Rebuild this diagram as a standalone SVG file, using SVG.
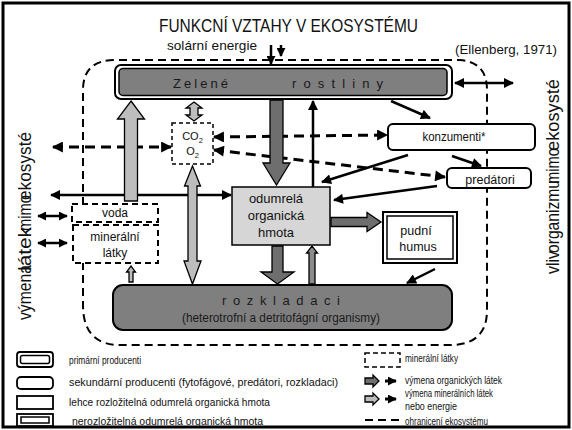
<svg xmlns="http://www.w3.org/2000/svg" width="572" height="430" viewBox="0 0 572 430">
<style>
  text{font-family:"Liberation Sans Narrow","Liberation Sans",Arial,sans-serif;fill:#111}
  .box{stroke:#000;stroke-width:2}
  .dk{fill:#7f7f7f}
  .lt{fill:#d6d6d6}
  .w{fill:#fff}
  .ln{stroke:#000;stroke-width:2.5;fill:none}
  .dash{stroke:#000;stroke-width:3;stroke-dasharray:10 6;fill:none}
  .bnd{stroke:#000;stroke-width:2;stroke-dasharray:8 5;fill:none}
  .mdash{stroke:#000;stroke-width:2;stroke-dasharray:6 4;fill:#fff}
  .ba{stroke:#000;stroke-width:1.3;stroke-linejoin:miter}
  .gA{fill:#bdbdbd}
  .gD{fill:#6e6e6e}
  .gM{fill:#8c8c8c}
  .lg{font-size:11px}
  .vt{font-size:19px}
  .in{fill:#1a1a1a}
</style>
<defs>
  <marker id="ah" viewBox="0 0 10 10" refX="9" refY="5" markerWidth="12" markerHeight="10" markerUnits="userSpaceOnUse" orient="auto-start-reverse">
    <path d="M0,0L10,5L0,10z"/>
  </marker>
  <marker id="ahL" viewBox="0 0 10 10" refX="9" refY="5" markerWidth="14" markerHeight="11" markerUnits="userSpaceOnUse" orient="auto-start-reverse">
    <path d="M0,0L10,5L0,10z"/>
  </marker>
  <marker id="ahS" viewBox="0 0 10 10" refX="9" refY="5" markerWidth="9" markerHeight="9" markerUnits="userSpaceOnUse" orient="auto-start-reverse">
    <path d="M0,0L10,5L0,10z"/>
  </marker>
</defs>

<!-- page and frame -->
<rect x="0" y="0" width="572" height="430" fill="#fff"/>
<rect x="3" y="3" width="566" height="424" fill="none" stroke="#000" stroke-width="3"/>

<!-- headings -->
<text x="159" y="32" font-size="19" textLength="259" lengthAdjust="spacingAndGlyphs">FUNKCNÍ VZTAHY V EKOSYSTÉMU</text>
<text x="167" y="50" font-size="13" textLength="90" lengthAdjust="spacingAndGlyphs">solární energie</text>
<text x="455" y="54" font-size="12.5" textLength="102" lengthAdjust="spacingAndGlyphs">(Ellenberg, 1971)</text>

<!-- side captions -->
<g class="vt" transform="translate(31,320) rotate(-90)">
  <text x="0" y="0" class="vt" textLength="55" lengthAdjust="spacingAndGlyphs">výmena</text>
  <text x="49" y="0" class="vt" textLength="44" lengthAdjust="spacingAndGlyphs">látek</text>
  <text x="89" y="0" class="vt" textLength="36" lengthAdjust="spacingAndGlyphs">mimo</text>
  <text x="120" y="0" class="vt" textLength="68" lengthAdjust="spacingAndGlyphs">ekosysté</text>
</g>
<g transform="translate(559,274) rotate(-90)">
  <text x="0" y="0" class="vt" textLength="23" lengthAdjust="spacingAndGlyphs">vliv</text>
  <text x="21" y="0" class="vt" textLength="73" lengthAdjust="spacingAndGlyphs">organizmu</text>
  <text x="90" y="0" class="vt" textLength="36" lengthAdjust="spacingAndGlyphs">mimo</text>
  <text x="123" y="0" class="vt" textLength="72" lengthAdjust="spacingAndGlyphs">ekosysté</text>
</g>

<!-- ecosystem boundary -->
<path class="bnd" d="M83,205 V90 Q83,60 115,60 H460 Q487,62 487,90 V310 Q487,345 450,345 H120 Q83,345 83,305 V263"/>

<!-- connectors -->
<g id="connectors">
  <line x1="271" y1="45" x2="271" y2="64" class="ln" marker-end="url(#ahS)"/>
  <line x1="281" y1="45" x2="281" y2="56" class="ln" marker-end="url(#ahS)"/>
  <line x1="455" y1="83" x2="513" y2="83" class="ln" stroke-width="3" marker-start="url(#ah)" marker-end="url(#ah)"/>
  <line x1="53" y1="147" x2="171" y2="147" class="dash" marker-start="url(#ahL)" marker-end="url(#ahL)"/>
  <line x1="51" y1="195" x2="231" y2="195" class="ln" stroke-width="3" marker-start="url(#ah)" marker-end="url(#ah)"/>
  <line x1="214" y1="137" x2="387" y2="135" class="dash" marker-start="url(#ahL)" marker-end="url(#ahL)"/>
  <line x1="214" y1="150" x2="445" y2="177" class="dash" marker-start="url(#ahL)" marker-end="url(#ahL)"/>
  <line x1="391" y1="101" x2="430" y2="118" class="ln" marker-end="url(#ah)"/>
  <line x1="452" y1="156" x2="481" y2="166" class="ln" marker-end="url(#ah)"/>
  <line x1="408" y1="155" x2="322" y2="182" class="ln" marker-end="url(#ah)"/>
  <line x1="437" y1="186" x2="334" y2="200" class="ln" marker-end="url(#ah)"/>
  <line x1="313" y1="187" x2="313" y2="101" class="ln" marker-end="url(#ah)"/>
  <line x1="435" y1="269" x2="407" y2="283" class="ln" stroke-width="3" marker-end="url(#ah)"/>
  <line x1="38" y1="216" x2="67" y2="216" class="ln" stroke-width="3" marker-start="url(#ahS)" marker-end="url(#ahS)"/>
  <line x1="38" y1="243" x2="67" y2="243" class="ln" stroke-width="3" marker-start="url(#ahS)" marker-end="url(#ahS)"/>

  <!-- block arrows -->
  <polygon class="ba gA" points="131,101 144.5,119 137.5,119 137.5,201 124.5,201 124.5,119 117.5,119"/>
  <polygon class="ba gA" points="194,102 202,108 198,108 198,115 202,115 194,121 186,115 190,115 190,108 186,108"/>
  <polygon class="ba gD" points="270,100 283,100 283,163 290,163 276.5,185 263,163 270,163"/>
  <polygon class="ba gA" points="192.5,166 200.5,186 197,186 197,261 201,261 192.5,284 184,261 188,261 188,186 184.5,186"/>
  <polygon class="ba gD" points="331,217.5 367,217.5 367,212.5 381,222 367,231.5 367,226.5 331,226.5"/>
  <polygon class="ba gD" points="272,246 283,246 283,272 294,272 277.5,284 261,272 272,272"/>
  <polygon class="ba gM" points="309,284 309,253 306.5,253 312,246 317.5,253 315,253 315,284"/>
  <polygon class="ba gA" points="129,282 129,272 126.5,272 131,266 135.5,272 133,272 133,282"/>
</g>

<!-- nodes -->
<g id="zelene-rostliny">
  <rect x="115" y="65" width="337" height="34" rx="6" class="box w"/>
  <rect x="119" y="68.5" width="328" height="27" rx="4" class="dk" stroke="#000" stroke-width="1.5"/>
  <text x="173" y="88" font-size="13" class="in" textLength="55">Zelené</text>
  <text x="292" y="88" font-size="13" class="in" textLength="91">rostliny</text>
</g>

<g id="co2-o2">
  <rect x="172" y="123" width="41" height="41" fill="#fff" stroke="#000" stroke-width="1.5" stroke-dasharray="4 3"/>
  <text x="192.5" y="140" font-size="11" text-anchor="middle">CO<tspan font-size="7.5" dy="3">2</tspan></text>
  <text x="192.5" y="155" font-size="11" text-anchor="middle">O<tspan font-size="7.5" dy="3">2</tspan></text>
</g>

<g id="konzumenti">
  <rect x="388" y="124" width="147" height="26" rx="5" class="box w"/>
  <text x="454" y="141" font-size="12.5" text-anchor="middle" textLength="63" lengthAdjust="spacingAndGlyphs">konzumenti*</text>
</g>

<g id="predatori">
  <rect x="447" y="168" width="84" height="20" rx="5" class="box w"/>
  <text x="490" y="184" font-size="12.5" text-anchor="middle">predátori</text>
</g>

<g id="odumrela-hmota">
  <rect x="232" y="187" width="98" height="58" class="lt" stroke="#000" stroke-width="1.5"/>
  <text x="276" y="203" font-size="13" text-anchor="middle">odumrelá</text>
  <text x="276" y="220" font-size="13" text-anchor="middle">organická</text>
  <text x="276" y="237" font-size="13" text-anchor="middle">hmota</text>
</g>

<g id="pudni-humus">
  <rect x="383" y="212" width="74" height="51" class="box w"/>
  <rect x="387" y="216" width="66" height="43" fill="none" stroke="#000" stroke-width="1.5"/>
  <text x="416" y="235" font-size="12.5" text-anchor="middle">pudní</text>
  <text x="418" y="251" font-size="12.5" text-anchor="middle">humus</text>
</g>

<g id="voda">
  <rect x="72" y="204" width="86" height="18" class="mdash"/>
  <text x="115" y="217" font-size="12" text-anchor="middle">voda</text>
</g>

<g id="mineralni-latky">
  <rect x="73" y="225" width="85" height="38" class="mdash"/>
  <text x="115" y="241" font-size="12" text-anchor="middle">minerální</text>
  <text x="115" y="257" font-size="12" text-anchor="middle">látky</text>
</g>

<g id="rozkladaci">
  <rect x="113" y="285" width="339" height="45" rx="10" class="box dk"/>
  <text x="222" y="305" font-size="13" class="in" textLength="118">rozkladaci</text>
  <text x="281" y="322" font-size="12" class="in" text-anchor="middle" textLength="198" lengthAdjust="spacingAndGlyphs">(heterotrofní a detritofágní organismy)</text>
</g>

<!-- legend -->
<g id="legend">
  <rect x="17" y="352" width="36" height="15" rx="3" fill="#fff" stroke="#000" stroke-width="1.8"/>
  <rect x="20.5" y="355.5" width="29" height="8" rx="2" fill="none" stroke="#000" stroke-width="1.5"/>
  <text x="69" y="364" class="lg" textLength="72" lengthAdjust="spacingAndGlyphs">primární producenti</text>

  <rect x="17" y="377" width="36" height="12" rx="4" fill="#fff" stroke="#000" stroke-width="1.8"/>
  <text x="69" y="386" class="lg" textLength="269" lengthAdjust="spacingAndGlyphs">sekundární producenti (fytofágové, predátori, rozkladaci)</text>

  <rect x="17" y="396" width="36" height="13" fill="#fff" stroke="#000" stroke-width="1.8"/>
  <text x="69" y="406" class="lg" textLength="201" lengthAdjust="spacingAndGlyphs">lehce rozložitelná odumrelá organická hmota</text>

  <rect x="17" y="414" width="36" height="12" fill="#fff" stroke="#000" stroke-width="1.8"/>
  <rect x="21" y="417" width="28" height="6" fill="none" stroke="#000" stroke-width="1.5"/>
  <text x="72" y="425" class="lg" textLength="191" lengthAdjust="spacingAndGlyphs">nerozložitelná odumrelá organická hmota</text>

  <rect x="365" y="353" width="35" height="14" fill="#fff" stroke="#000" stroke-width="1.5" stroke-dasharray="5 3"/>
  <text x="405" y="362" class="lg" textLength="53" lengthAdjust="spacingAndGlyphs">minerální látky</text>

  <polygon class="ba gD" points="365,378 373,378 373,375 379,381 373,387 373,384 365,384"/>
  <line x1="385" y1="381" x2="396" y2="381" stroke="#000" stroke-width="3" marker-end="url(#ahS)"/>
  <text x="405" y="384" class="lg" textLength="97" lengthAdjust="spacingAndGlyphs">výmena organických látek</text>

  <polygon class="ba gA" points="365,396 373,396 373,393 379,399 373,405 373,402 365,402"/>
  <line x1="385" y1="399" x2="396" y2="399" stroke="#000" stroke-width="3" marker-end="url(#ahS)"/>
  <text x="405" y="397" font-size="10" textLength="88" lengthAdjust="spacingAndGlyphs">výmena minerálních látek</text>
  <text x="405" y="410" font-size="10" textLength="52" lengthAdjust="spacingAndGlyphs">nebo energie</text>

  <line x1="365" y1="420" x2="400" y2="420" class="bnd"/>
  <text x="405" y="425" font-size="10" textLength="83" lengthAdjust="spacingAndGlyphs">ohranicení ekosystému</text>
</g>
</svg>
